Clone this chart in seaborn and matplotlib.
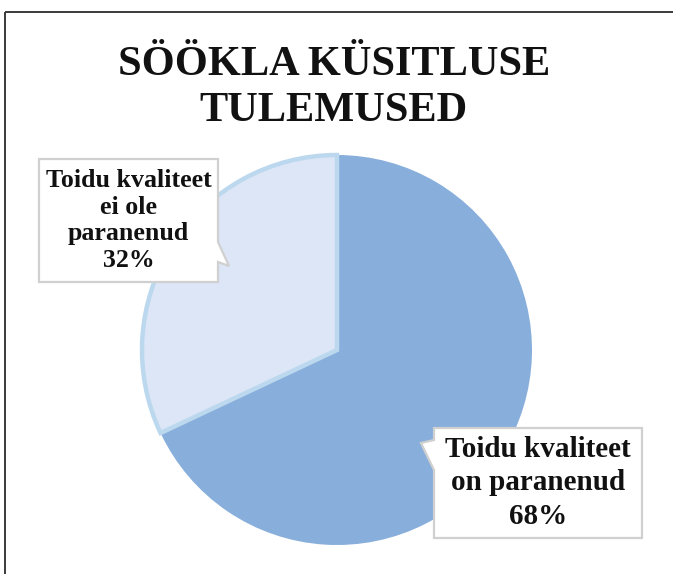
import matplotlib
matplotlib.use("Agg")
import matplotlib.pyplot as plt
from matplotlib.patches import Polygon
import seaborn as sns

# ---- data ----
categories = ["Toidu kvaliteet on paranenud", "Toidu kvaliteet ei ole paranenud"]
values = [68, 32]
label_lines = [["Toidu kvaliteet", "on paranenud"], ["Toidu kvaliteet", "ei ole", "paranenud"]]
title = "SÖÖKLA KÜSITLUSE\nTULEMUSED"

sns.set_theme(style="white")
plt.rcParams['font.family'] = ['Liberation Serif', 'DejaVu Serif']

W, H = 673, 574
fig = plt.figure(figsize=(W / 100, H / 100), dpi=100)
ax = fig.add_axes([0, 0, 1, 1])

def P(x, y):
    return (x, H - y)

colors = ["#88AEDB", "#DCE6F6"]
cx, cy = P(337, 350)
wedges, _ = ax.pie(values, colors=colors, startangle=90, counterclock=False,
                   center=(cx, cy), radius=195, frame=True,
                   wedgeprops=dict(linewidth=0))
wedges[1].set_edgecolor("#BCD8EF")
wedges[1].set_linewidth(3.2)
wedges[1].set_joinstyle("miter")

ax.set_xlim(0, W)
ax.set_ylim(0, H)
ax.set_aspect("equal")
ax.axis("off")

# outer border (top and left)
ax.plot([5, W], [H - 12, H - 12], color="#3a3a3a", lw=1.4, solid_capstyle="butt")
ax.plot([5, 5], [H - 12, 0], color="#3a3a3a", lw=1.4, solid_capstyle="butt")

# title
fig.text(334 / W, 1 - 46 / H, title, ha="center", va="top", fontsize=30.5,
         fontweight="bold", color="#111111", linespacing=1.27)

def callout(box, ptr, text, fs, ls):
    x0, y0, x1, y1 = box
    side, a, b, tip = ptr
    if side == "right":
        pts = [(x0, y0), (x1, y0), (x1, a), tip, (x1, b), (x1, y1), (x0, y1)]
    else:
        pts = [(x0, y0), (x1, y0), (x1, y1), (x0, y1), (x0, b), tip, (x0, a)]
    poly = Polygon([P(*p) for p in pts], closed=True, facecolor="white",
                   edgecolor="#D0D0D0", lw=1.6, zorder=5, joinstyle="miter")
    ax.add_patch(poly)
    tx, ty = P((x0 + x1) / 2, (y0 + y1) / 2)
    ax.text(tx, ty, text, ha="center", va="center", fontsize=fs,
            fontweight="bold", color="#111111", linespacing=ls, zorder=6)

pct = [f"{v}%" for v in values]
callout((434, 428, 642, 538), ("left", 440, 470, (421, 443)),
        "\n".join(label_lines[0] + [pct[0]]), 21, 1.3)
callout((39, 159, 218, 282), ("right", 242, 262, (229, 266)),
        "\n".join(label_lines[1] + [pct[1]]), 18.6, 1.2)

fig.savefig("out.png", dpi=100, facecolor="white")
